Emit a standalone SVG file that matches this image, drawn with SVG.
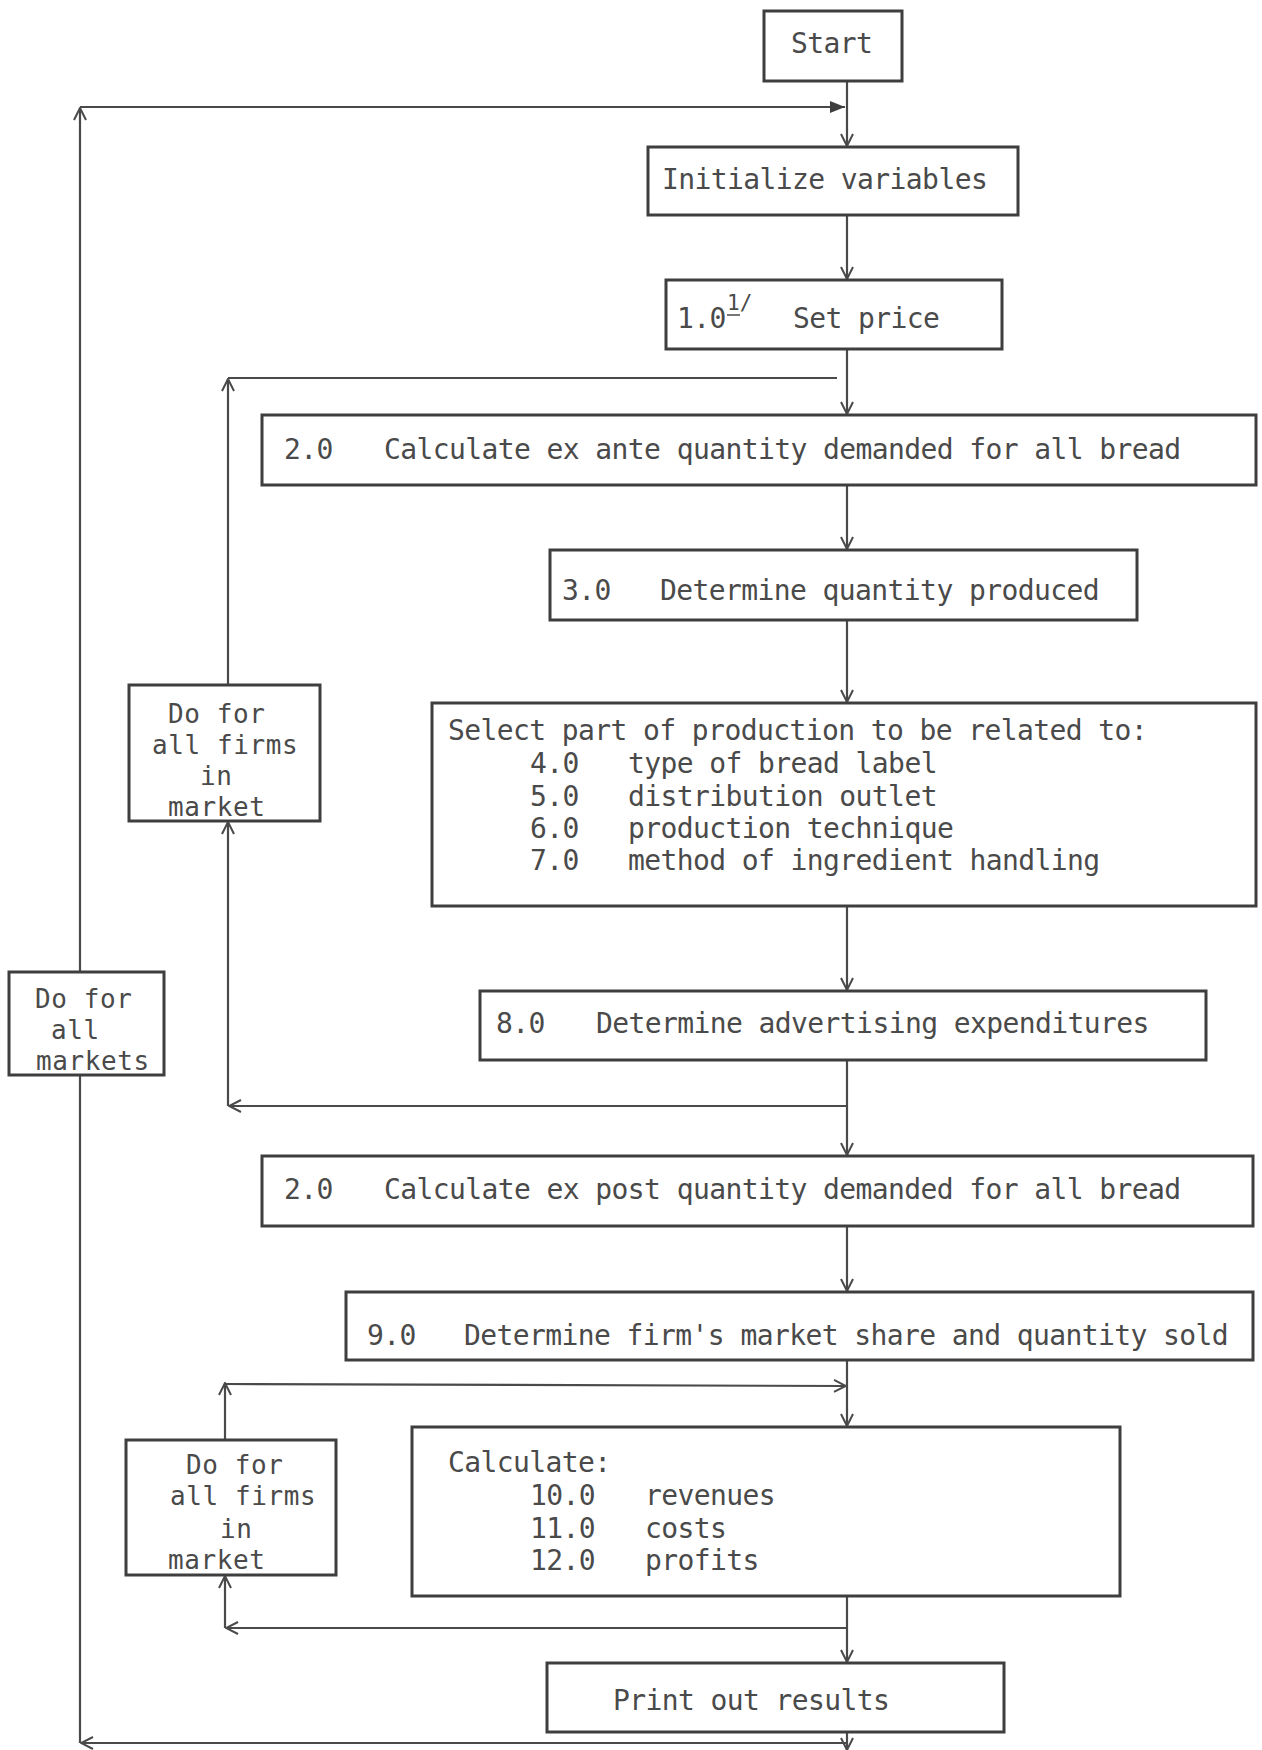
<svg xmlns="http://www.w3.org/2000/svg" width="1262" height="1750" viewBox="0 0 1262 1750">
<style>
.box{fill:#ffffff;stroke:#3e3e3e;stroke-width:3}
.ln{fill:none;stroke:#4a4a4a;stroke-width:2.2}
.t{font-family:"DejaVu Sans Mono","Liberation Mono",monospace;font-size:28px;letter-spacing:-0.6px;fill:#4a4a4a}
.s{font-family:"DejaVu Sans Mono","Liberation Mono",monospace;font-size:26px;letter-spacing:0.6px;fill:#4a4a4a}
.sup{font-family:"DejaVu Sans Mono","Liberation Mono",monospace;font-size:21px;fill:#4a4a4a}
</style>
<defs>
<marker id="open" viewBox="0 0 14 14" refX="13" refY="7" markerWidth="14" markerHeight="14" markerUnits="userSpaceOnUse" orient="auto">
<path d="M1,1 L13,7 L1,13" fill="none" stroke="#4a4a4a" stroke-width="2"/>
</marker>
<marker id="solid" viewBox="0 0 16 14" refX="15" refY="7" markerWidth="16" markerHeight="14" markerUnits="userSpaceOnUse" orient="auto">
<path d="M0,1 L15,7 L0,13 Z" fill="#3e3e3e"/>
</marker>
</defs>
<rect width="1262" height="1750" fill="#ffffff"/>
<g id="connectors">
<line class="ln" x1="847" y1="81" x2="847" y2="146" marker-end="url(#open)"/>
<line class="ln" x1="80" y1="107" x2="845" y2="107" marker-end="url(#solid)"/>
<line class="ln" x1="847" y1="215" x2="847" y2="279" marker-end="url(#open)"/>
<line class="ln" x1="847" y1="349" x2="847" y2="414" marker-end="url(#open)"/>
<line class="ln" x1="847" y1="485" x2="847" y2="549" marker-end="url(#open)"/>
<line class="ln" x1="847" y1="620" x2="847" y2="702" marker-end="url(#open)"/>
<line class="ln" x1="847" y1="906" x2="847" y2="990" marker-end="url(#open)"/>
<line class="ln" x1="847" y1="1060" x2="847" y2="1155" marker-end="url(#open)"/>
<line class="ln" x1="847" y1="1226" x2="847" y2="1291" marker-end="url(#open)"/>
<line class="ln" x1="847" y1="1360" x2="847" y2="1426" marker-end="url(#open)"/>
<line class="ln" x1="847" y1="1596" x2="847" y2="1662" marker-end="url(#open)"/>
<line class="ln" x1="847" y1="1732" x2="847" y2="1750" marker-end="url(#open)"/>
<line class="ln" x1="847" y1="1743" x2="81" y2="1743" marker-end="url(#open)"/>
<line class="ln" x1="80" y1="1743" x2="80" y2="108" marker-end="url(#open)"/>
<line class="ln" x1="228" y1="378" x2="837" y2="378"/>
<line class="ln" x1="228" y1="685" x2="228" y2="379" marker-end="url(#open)"/>
<line class="ln" x1="847" y1="1106" x2="229" y2="1106" marker-end="url(#open)"/>
<line class="ln" x1="228" y1="1106" x2="228" y2="822" marker-end="url(#open)"/>
<line class="ln" x1="225" y1="1440" x2="225" y2="1383" marker-end="url(#open)"/>
<line class="ln" x1="225" y1="1384" x2="846" y2="1386" marker-end="url(#open)"/>
<line class="ln" x1="847" y1="1628" x2="226" y2="1628" marker-end="url(#open)"/>
<line class="ln" x1="225" y1="1628" x2="225" y2="1576" marker-end="url(#open)"/>
</g>
<g id="start">
<rect class="box" x="764" y="11" width="138" height="70"/>
<text class="t" x="791" y="53">Start</text>
</g>
<g id="init">
<rect class="box" x="648" y="147" width="370" height="68"/>
<text class="t" x="662" y="189">Initialize variables</text>
</g>
<g id="setprice">
<rect class="box" x="666" y="280" width="336" height="69"/>
<text class="t" x="677" y="328">1.0</text>
<text class="sup" x="727" y="310">1/</text>
<line x1="727" y1="315" x2="740" y2="315" stroke="#4a4a4a" stroke-width="1.5"/>
<text class="t" x="793" y="328">Set price</text>
</g>
<g id="exante">
<rect class="box" x="262" y="415" width="994" height="70"/>
<text class="t" x="284" y="459">2.0</text>
<text class="t" x="384" y="459">Calculate ex ante quantity demanded for all bread</text>
</g>
<g id="qprod">
<rect class="box" x="550" y="550" width="587" height="70"/>
<text class="t" x="562" y="600">3.0</text>
<text class="t" x="660" y="600">Determine quantity produced</text>
</g>
<g id="select">
<rect class="box" x="432" y="703" width="824" height="203"/>
<text class="t" x="448" y="740">Select part of production to be related to:</text>
<text class="t" x="530" y="773">4.0</text><text class="t" x="628" y="773">type of bread label</text>
<text class="t" x="530" y="806">5.0</text><text class="t" x="628" y="806">distribution outlet</text>
<text class="t" x="530" y="838">6.0</text><text class="t" x="628" y="838">production technique</text>
<text class="t" x="530" y="870">7.0</text><text class="t" x="628" y="870">method of ingredient handling</text>
</g>
<g id="firms1">
<rect class="box" x="129" y="685" width="191" height="136"/>
<text class="s" x="168" y="723">Do for</text>
<text class="s" x="152" y="754">all firms</text>
<text class="s" x="200" y="785">in</text>
<text class="s" x="168" y="816">market</text>
</g>
<g id="markets">
<rect class="box" x="9" y="972" width="155" height="103"/>
<text class="s" x="35" y="1008">Do for</text>
<text class="s" x="51" y="1039">all</text>
<text class="s" x="36" y="1070">markets</text>
</g>
<g id="advert">
<rect class="box" x="480" y="991" width="726" height="69"/>
<text class="t" x="496" y="1033">8.0</text>
<text class="t" x="596" y="1033">Determine advertising expenditures</text>
</g>
<g id="expost">
<rect class="box" x="262" y="1156" width="991" height="70"/>
<text class="t" x="284" y="1199">2.0</text>
<text class="t" x="384" y="1199">Calculate ex post quantity demanded for all bread</text>
</g>
<g id="share">
<rect class="box" x="346" y="1292" width="907" height="68"/>
<text class="t" x="367" y="1345">9.0</text>
<text class="t" x="464" y="1345">Determine firm's market share and quantity sold</text>
</g>
<g id="calc">
<rect class="box" x="412" y="1427" width="708" height="169"/>
<text class="t" x="448" y="1472">Calculate:</text>
<text class="t" x="530" y="1505">10.0</text><text class="t" x="645" y="1505">revenues</text>
<text class="t" x="530" y="1538">11.0</text><text class="t" x="645" y="1538">costs</text>
<text class="t" x="530" y="1570">12.0</text><text class="t" x="645" y="1570">profits</text>
</g>
<g id="firms2">
<rect class="box" x="126" y="1440" width="210" height="135"/>
<text class="s" x="186" y="1474">Do for</text>
<text class="s" x="170" y="1505">all firms</text>
<text class="s" x="220" y="1538">in</text>
<text class="s" x="168" y="1569">market</text>
</g>
<g id="print">
<rect class="box" x="547" y="1663" width="457" height="69"/>
<text class="t" x="613" y="1710">Print out results</text>
</g>
</svg>
